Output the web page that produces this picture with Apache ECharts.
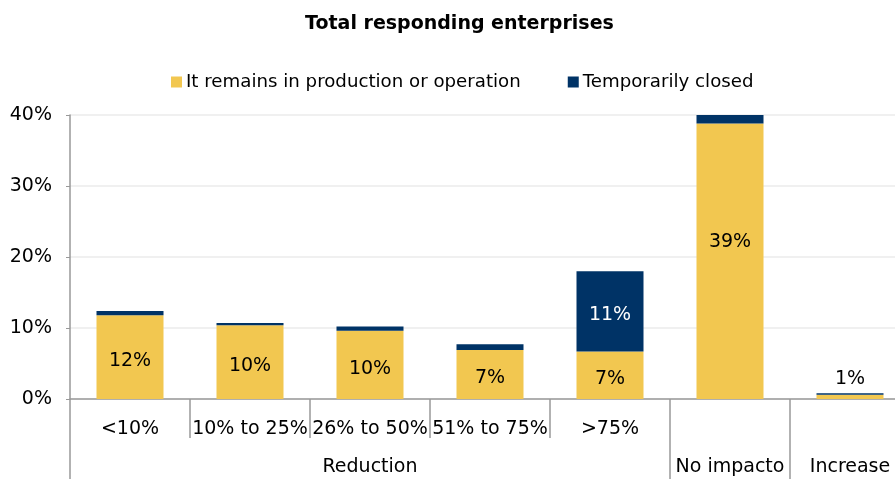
<!DOCTYPE html>
<html>
<head>
<meta charset="utf-8">
<script src="https://cdn.jsdelivr.net/npm/echarts@6/dist/echarts.min.js"></script>
<style>
  html, body { margin: 0; padding: 0; background: #fff; }
  #chart { width: 895px; height: 479px; }
</style>
</head>
<body>
<div id="chart"></div>
<script>
  // data
  const categories = ['<10%', '10% to 25%', '26% to 50%', '51% to 75%', '>75%', 'No impacto', 'Increase'];
  const groupLabels = ['', '', 'Reduction', '', '', 'No impacto', 'Increase'];
  const groupBounds = [0, 5, 6];
  const subLabelCount = 5;
  const operating = [11.8, 10.4, 9.6, 6.9, 6.7, 38.8, 0.6];
  const closed = [0.6, 0.3, 0.6, 0.8, 11.3, 1.3, 0.2];
  const seriesNames = ['It remains in production or operation', 'Temporarily closed'];

  const font = 'DejaVu Sans';
  const yellow = '#F2C750';
  const navy = '#003366';

  let chart = echarts.init(document.getElementById('chart'));
  chart.setOption({
    animation: false,
    textStyle: { fontFamily: font },
    title: {
      text: 'Total responding enterprises',
      left: 300,
      top: 10,
      textStyle: { fontFamily: font, fontSize: 19, fontWeight: 'bold', color: '#000' }
    },
    legend: {
      data: seriesNames,
      left: 166,
      top: 68,
      itemWidth: 11,
      itemHeight: 11,
      itemGap: 47,
      icon: 'rect',
      textStyle: { fontFamily: font, fontSize: 18.2, color: '#000', padding: [0, 0, 0, -1] }
    },
    grid: { left: 70, width: 840, top: 115, bottom: 80, containLabel: false, outerBoundsMode: 'none' },
    xAxis: [
      {
        type: 'category',
        data: categories,
        axisLine: { show: true, lineStyle: { color: '#999', width: 1.5 } },
        axisTick: { show: true, interval: 0, length: 39, lineStyle: { color: '#999', width: 1.5 } },
        axisLabel: {
          interval: 0,
          margin: 21,
          fontFamily: font,
          fontSize: 19,
          color: '#000',
          formatter: function (v, i) { return i < subLabelCount ? v : ''; }
        }
      },
      {
        type: 'category',
        data: groupLabels,
        position: 'bottom',
        axisLine: { show: false },
        axisTick: {
          show: true,
          length: 80,
          interval: function (i) { return groupBounds.indexOf(i) >= 0; },
          lineStyle: { color: '#999', width: 1.5 }
        },
        axisLabel: { interval: 0, margin: 59, fontFamily: font, fontSize: 19, color: '#000' }
      }
    ],
    yAxis: {
      type: 'value',
      min: 0,
      max: 40,
      interval: 10,
      axisLine: { show: true, lineStyle: { color: '#999', width: 1.5 } },
      axisTick: { show: true, length: 4, lineStyle: { color: '#999' } },
      splitLine: { lineStyle: { color: '#ebebeb', width: 1.5 } },
      axisLabel: { formatter: '{value}%', margin: 18, fontFamily: font, fontSize: 19, color: '#000' }
    },
    series: [
      {
        name: seriesNames[0],
        type: 'bar',
        stack: 'total',
        barWidth: 67,
        itemStyle: { color: yellow },
        label: {
          show: true,
          position: 'inside',
          offset: [0, 4],
          fontFamily: font,
          fontSize: 19,
          color: '#000',
          formatter: function (p) { return Math.round(p.value) + '%'; }
        },
        data: operating.map(function (v, i) {
          if (i === 5) {
            return { value: v, label: { offset: [0, -19] } };
          }
          if (i === 6) {
            return { value: v, label: { position: 'top', distance: 6, offset: [0, 0] } };
          }
          return v;
        })
      },
      {
        name: seriesNames[1],
        type: 'bar',
        stack: 'total',
        barWidth: 67,
        itemStyle: { color: navy },
        label: {
          show: true,
          position: 'inside',
          offset: [0, 4],
          fontFamily: font,
          fontSize: 19,
          color: '#fff',
          formatter: function (p) { return p.value >= 5 ? Math.round(p.value) + '%' : ''; }
        },
        data: closed
      }
    ]
  });
</script>
</body>
</html>
